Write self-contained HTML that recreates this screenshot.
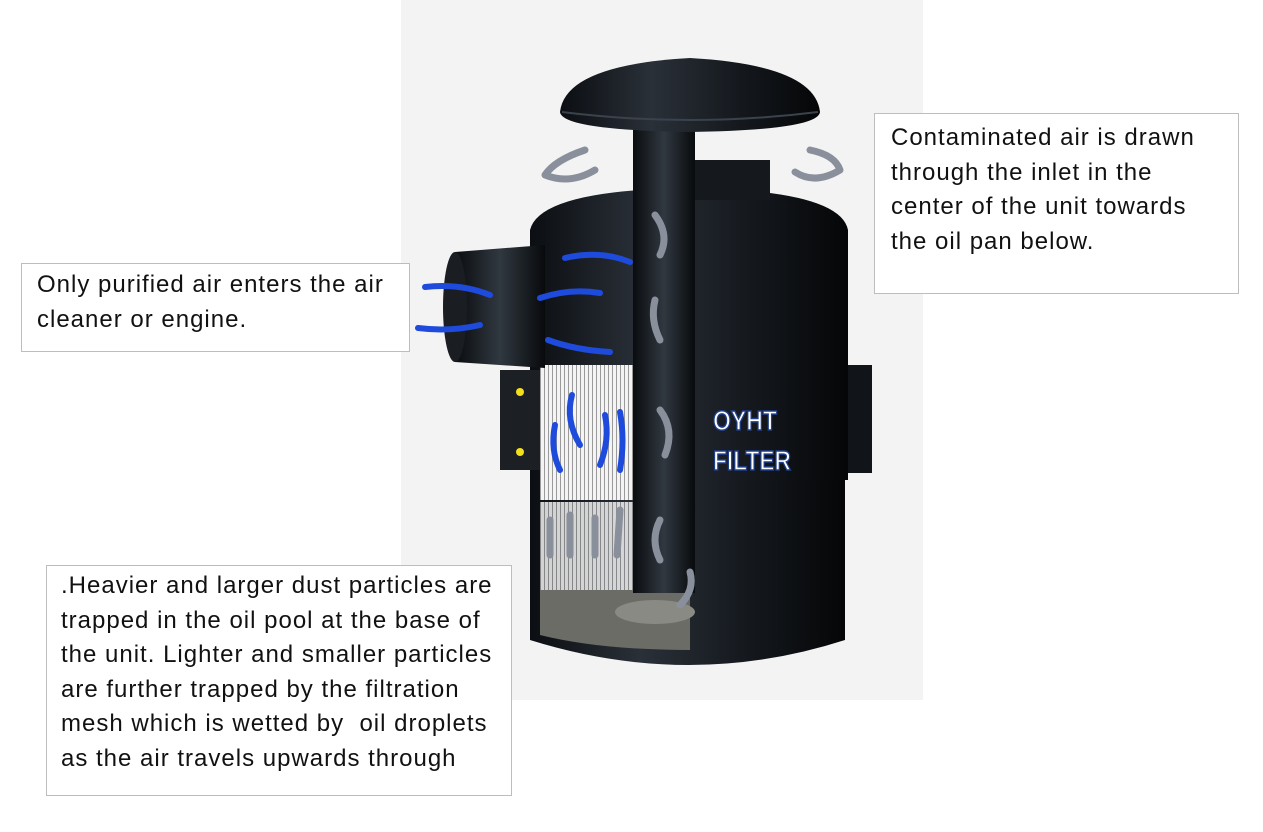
<!DOCTYPE html>
<html><head><style>
body{margin:0;width:1263px;height:832px;background:#fff;position:relative;overflow:hidden;font-family:"Liberation Sans",sans-serif;}
.box{position:absolute;border:1px solid #bdbdbd;background:#fff;color:#111;font-size:24px;letter-spacing:1px;line-height:34.5px;box-sizing:border-box;white-space:nowrap;}
</style></head><body>
<div style="position:absolute;left:401px;top:0;width:522px;height:700px;background:#f3f3f4"></div>
<svg style="position:absolute;left:0;top:0" width="1263" height="832">
<defs>
<linearGradient id="g" x1="0" x2="1"><stop offset="0" stop-color="#0b0e12"/><stop offset="0.35" stop-color="#2a3038"/><stop offset="0.7" stop-color="#14181d"/><stop offset="1" stop-color="#050607"/></linearGradient>
<linearGradient id="p" x1="0" x2="1"><stop offset="0" stop-color="#0a0c0f"/><stop offset="0.5" stop-color="#303840"/><stop offset="1" stop-color="#080a0c"/></linearGradient>
<pattern id="m" width="4" height="10" patternUnits="userSpaceOnUse"><rect width="4" height="10" fill="#f4f4f4"/><rect width="1" height="10" fill="#9a9a9a"/></pattern>
</defs>
<path d="M530 470 L845 470 L845 640 Q690 690 530 640 Z" fill="url(#g)"/>
<rect x="690" y="365" width="182" height="108" fill="#111418"/>
<path d="M530 230 Q540 190 690 188 Q840 190 848 230 L848 480 L530 480 Z" fill="url(#g)"/>
<rect x="690" y="160" width="80" height="40" fill="#15191e"/>
<rect x="500" y="370" width="40" height="100" fill="#1c2025"/>
<circle cx="520" cy="392" r="4" fill="#f2e019"/><circle cx="520" cy="452" r="4" fill="#f2e019"/>
<rect x="540" y="365" width="95" height="135" fill="url(#m)"/>
<rect x="540" y="502" width="95" height="88" fill="url(#m)" opacity="0.85"/>
<path d="M540 590 L690 590 L690 650 Q600 650 540 635 Z" fill="#6c6c66"/>
<ellipse cx="655" cy="612" rx="40" ry="12" fill="#8a8a85"/>
<path d="M455 252 L545 245 L545 368 L455 362 Z" fill="url(#p)"/>
<ellipse cx="455" cy="307" rx="12" ry="55" fill="#1a1e23"/>
<rect x="633" y="128" width="62" height="465" fill="url(#p)"/>
<path d="M560 112 Q565 65 690 58 Q815 65 820 112 Q818 130 690 132 Q562 130 560 112 Z" fill="url(#g)"/>
<path d="M562 112 Q690 128 818 112" stroke="#3a424c" stroke-width="2" fill="none"/>
<g fill="none" stroke="#8a8f9c" stroke-width="7" stroke-linecap="round">
<path d="M585 150 Q555 160 545 175 M545 175 Q570 185 595 170"/>
<path d="M810 150 Q835 155 840 170 M840 170 Q815 185 795 172"/>
<path d="M655 215 Q670 235 660 255"/><path d="M655 300 Q650 320 660 340"/><path d="M660 410 Q675 430 665 455"/><path d="M660 520 Q650 540 660 560"/>
<path d="M550 555 L550 520 M570 555 L570 515 M595 555 L595 518 M617 555 L620 510"/>
<path d="M680 605 Q695 590 690 572"/>
</g>
<g fill="none" stroke="#1e4bdc" stroke-width="6" stroke-linecap="round">
<path d="M630 262 Q600 250 565 258"/><path d="M600 293 Q570 288 540 298"/><path d="M610 352 Q575 350 548 340"/>
<path d="M490 295 Q460 283 425 287"/><path d="M480 325 Q450 332 418 328"/>
<path d="M580 445 Q565 420 572 395"/><path d="M560 470 Q550 450 555 425"/><path d="M600 465 Q610 440 605 415"/><path d="M620 470 Q625 440 620 412"/>
</g>
<g font-family="Liberation Sans,sans-serif" font-weight="bold" font-size="28" fill="#fff" stroke="#1f3f8a" stroke-width="1.5">
<text x="713" y="430" textLength="64" lengthAdjust="spacingAndGlyphs">OYHT</text>
<text x="713" y="470" textLength="78" lengthAdjust="spacingAndGlyphs">FILTER</text>
</g>
</svg>
<div class="box" style="left:874px;top:113px;width:365px;height:181px;padding:7px 0 0 16px">Contaminated air is drawn<br>through the inlet in the<br>center of the unit towards<br>the oil pan below.</div>
<div class="box" style="left:21px;top:263px;width:389px;height:89px;padding:4px 0 0 15px">Only purified air enters the air<br>cleaner or engine.</div>
<div class="box" style="left:46px;top:565px;width:466px;height:231px;padding:3px 0 0 14px">.Heavier and larger dust particles are<br>trapped in the oil pool at the base of<br>the unit. Lighter and smaller particles<br>are further trapped by the filtration<br>mesh which is wetted by&nbsp; oil droplets<br>as the air travels upwards through</div>
</body></html>
